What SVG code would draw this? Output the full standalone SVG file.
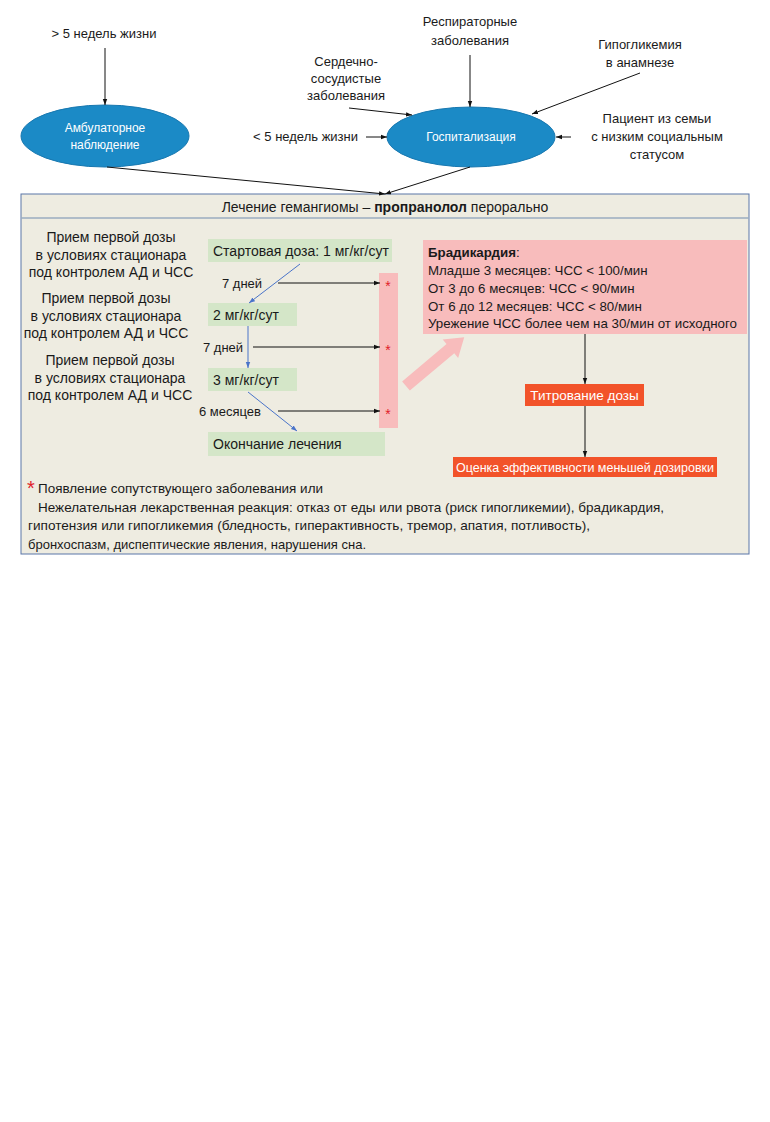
<svg xmlns="http://www.w3.org/2000/svg" width="770" height="1122" viewBox="0 0 770 1122">
<defs>
<style>
text{font-family:"Liberation Sans",Arial,sans-serif;fill:#1a1a1a}
.t13{font-size:13px}
.t14{font-size:14px}
.tb{font-size:13.3px}
.mid{text-anchor:middle}
.w{fill:#ffffff}
.blk{stroke:#111;stroke-width:1;fill:none}
.blu{stroke:#4a74c9;stroke-width:1;fill:none}
.green{fill:#d4e6c8}
.pink{fill:#f8bcbc}
.orange{fill:#f2532a}
.ell{fill:#1b8ac6;stroke:#1878b0;stroke-width:1}
.star{fill:#e0202a;font-size:14px}
</style>
<marker id="ah" viewBox="0 0 6 6" refX="6" refY="3" markerWidth="6" markerHeight="6" orient="auto" markerUnits="userSpaceOnUse">
<path d="M0,0.8 L6,3 L0,5.2 Z" fill="#111"/>
</marker>
<marker id="ahb" viewBox="0 0 6 6" refX="6" refY="3" markerWidth="6" markerHeight="6" orient="auto" markerUnits="userSpaceOnUse">
<path d="M0,0.8 L6,3 L0,5.2 Z" fill="#4a74c9"/>
</marker>
</defs>
<rect x="0" y="0" width="770" height="1122" fill="#ffffff"/>

<g id="main-box">
<rect x="21" y="194" width="728" height="360" fill="#eeece1" stroke="#5a76a8" stroke-width="1"/>
<line x1="21" y1="218" x2="749" y2="218" stroke="#9aacbf" stroke-width="1.5"/>
<text class="t14 mid" x="385" y="212">Лечение гемангиомы – <tspan font-weight="bold">пропранолол</tspan> перорально</text>
</g>

<g id="label-gt5">
<text class="t13 mid" x="104" y="38">&gt; 5 недель жизни</text>
</g>
<g id="label-resp">
<text class="t13 mid" x="470" y="26">Респираторные</text>
<text class="t13 mid" x="470" y="45">заболевания</text>
</g>
<g id="label-cardio">
<text class="t13 mid" x="346" y="66">Сердечно-</text>
<text class="t13 mid" x="346" y="83">сосудистые</text>
<text class="t13 mid" x="346" y="100">заболевания</text>
</g>
<g id="label-hypo">
<text class="t13 mid" x="640" y="49">Гипогликемия</text>
<text class="t13 mid" x="640" y="67">в анамнезе</text>
</g>
<g id="label-social">
<text class="t13 mid" x="657" y="123">Пациент из семьи</text>
<text class="t13 mid" x="657" y="141">с низким социальным</text>
<text class="t13 mid" x="657" y="159">статусом</text>
</g>
<g id="label-lt5">
<text class="t13" x="358" y="141" text-anchor="end">&lt; 5 недель жизни</text>
</g>

<g id="node-ambulatory">
<ellipse class="ell" cx="105" cy="136" rx="84" ry="31"/>
<text class="w mid" x="105" y="132" font-size="12">Амбулаторное</text>
<text class="w mid" x="105" y="149" font-size="12">наблюдение</text>
</g>
<g id="node-hospital">
<ellipse class="ell" cx="471" cy="137" rx="84" ry="30"/>
<text class="w mid" x="471" y="141" font-size="12">Госпитализация</text>
</g>

<g id="left-notes">
<text class="t14 mid" x="111" y="242">Прием первой дозы</text>
<text class="t14 mid" x="111" y="260">в условиях стационара</text>
<text class="t14 mid" x="111" y="277">под контролем АД и ЧСС</text>
<text class="t14 mid" x="106" y="303">Прием первой дозы</text>
<text class="t14 mid" x="106" y="321">в условиях стационара</text>
<text class="t14 mid" x="106" y="338">под контролем АД и ЧСС</text>
<text class="t14 mid" x="110" y="365">Прием первой дозы</text>
<text class="t14 mid" x="110" y="383">в условиях стационара</text>
<text class="t14 mid" x="110" y="400">под контролем АД и ЧСС</text>
</g>

<g id="dose-1">
<rect class="green" x="208" y="239" width="184" height="23"/>
<text class="t14" x="213" y="256">Стартовая доза: 1 мг/кг/сут</text>
</g>
<g id="dose-2">
<rect class="green" x="208" y="303" width="89" height="23"/>
<text class="t14" x="213" y="320">2 мг/кг/сут</text>
</g>
<g id="dose-3">
<rect class="green" x="208" y="368" width="89" height="23"/>
<text class="t14" x="213" y="385">3 мг/кг/сут</text>
</g>
<g id="dose-end">
<rect class="green" x="208" y="432" width="177" height="24"/>
<text class="t14" x="213" y="449">Окончание лечения</text>
</g>

<g id="period-labels">
<text class="t13" x="222" y="288">7 дней</text>
<text class="t13" x="203" y="352">7 дней</text>
<text class="t13" x="199" y="416">6 месяцев</text>
</g>

<g id="star-bar">
<rect class="pink" x="379" y="273" width="19" height="155"/>
<text class="star mid" x="388" y="291">*</text>
<text class="star mid" x="388" y="355">*</text>
<text class="star mid" x="388" y="419">*</text>
</g>

<g id="bradycardia">
<rect class="pink" x="423" y="240" width="324" height="94"/>
<text class="tb" x="428" y="257"><tspan font-weight="bold">Брадикардия</tspan>:</text>
<text class="tb" x="428" y="275">Младше 3 месяцев: ЧСС &lt; 100/мин</text>
<text class="tb" x="428" y="293">От 3 до 6 месяцев: ЧСС &lt; 90/мин</text>
<text class="tb" x="428" y="311">От 6 до 12 месяцев: ЧСС &lt; 80/мин</text>
<text class="tb" x="428" y="328" textLength="309" lengthAdjust="spacingAndGlyphs">Урежение ЧСС более чем на 30/мин от исходного</text>
</g>

<g id="titration">
<rect class="orange" x="525" y="384" width="119" height="22"/>
<text class="w mid" x="584.5" y="400" font-size="13.5">Титрование дозы</text>
</g>
<g id="evaluation">
<rect class="orange" x="453" y="457" width="264" height="20"/>
<text class="w mid" x="585" y="472" font-size="12.5">Оценка эффективности меньшей дозировки</text>
</g>

<g id="connectors">
<line class="blk" x1="105" y1="48" x2="105" y2="105" marker-end="url(#ah)"/>
<line class="blk" x1="470" y1="55" x2="470" y2="107" marker-end="url(#ah)"/>
<line class="blk" x1="349" y1="108" x2="412" y2="115" marker-end="url(#ah)"/>
<line class="blk" x1="640" y1="73" x2="532" y2="114" marker-end="url(#ah)"/>
<line class="blk" x1="571" y1="137" x2="556" y2="137" marker-end="url(#ah)"/>
<line class="blk" x1="366" y1="137" x2="387" y2="137" marker-end="url(#ah)"/>
<line class="blk" x1="107" y1="167" x2="385" y2="194" marker-end="url(#ah)"/>
<line class="blk" x1="470" y1="167" x2="385" y2="194" marker-end="url(#ah)"/>
<line class="blu" x1="300" y1="264" x2="249" y2="303" marker-end="url(#ahb)"/>
<line class="blu" x1="248" y1="326" x2="248" y2="368" marker-end="url(#ahb)"/>
<line class="blu" x1="248" y1="392" x2="297" y2="431" marker-end="url(#ahb)"/>
<line class="blk" x1="278" y1="283" x2="380" y2="283" marker-end="url(#ah)"/>
<line class="blk" x1="253" y1="347" x2="380" y2="347" marker-end="url(#ah)"/>
<line class="blk" x1="278" y1="411" x2="380" y2="411" marker-end="url(#ah)"/>
<line class="blk" x1="585" y1="334" x2="585" y2="384" marker-end="url(#ah)"/>
<line class="blk" x1="585" y1="406" x2="585" y2="457" marker-end="url(#ah)"/>
<g transform="translate(406,386) rotate(-40)">
<polygon points="0,-6 58,-6 58,-12 76,0 58,12 58,6 0,6" fill="#f8bcbc"/>
</g>
</g>

<g id="footnote">
<text x="27" y="495" font-size="20" style="fill:#e0202a">*</text>
<text class="t13" x="38" y="493" textLength="285" lengthAdjust="spacingAndGlyphs">Появление сопутствующего заболевания или</text>
<text class="t13" x="38" y="512" textLength="626" lengthAdjust="spacingAndGlyphs">Нежелательная лекарственная реакция: отказ от еды или рвота (риск гипогликемии), брадикардия,</text>
<text class="t13" x="28" y="530" textLength="562" lengthAdjust="spacingAndGlyphs">гипотензия или гипогликемия (бледность, гиперактивность, тремор, апатия, потливость),</text>
<text class="t13" x="28" y="549" textLength="338" lengthAdjust="spacingAndGlyphs">бронхоспазм, диспептические явления, нарушения сна.</text>
</g>
</svg>
